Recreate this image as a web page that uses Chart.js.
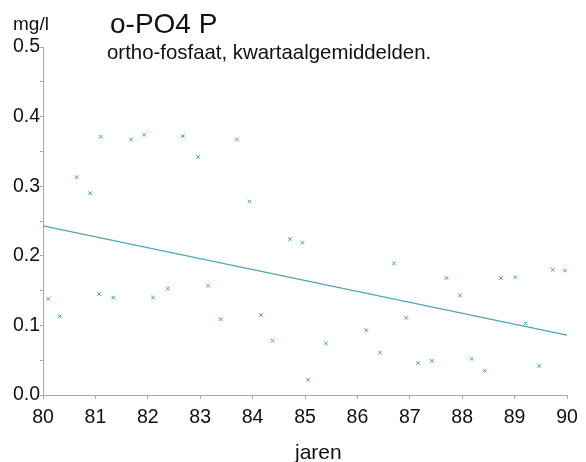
<!DOCTYPE html>
<html>
<head>
<meta charset="utf-8">
<script src="https://cdn.jsdelivr.net/npm/chart.js@4.4.1/dist/chart.umd.min.js"></script>
<style>
  html, body { margin: 0; padding: 0; background: #fff; }
  #wrap { position: relative; width: 586px; height: 462px; }
</style>
</head>
<body>
<div id="wrap"><canvas id="c" width="586" height="462"></canvas></div>
<script>
// Quarterly averages of ortho-phosphate (mg/l P), 1980-1990
const years = [
  80.10, 80.32, 80.64, 80.90, 81.07, 81.10, 81.34, 81.68, 81.93,
  82.10, 82.38, 82.67, 82.96, 83.15, 83.39, 83.70, 83.94,
  84.16, 84.38, 84.71, 84.95, 85.06, 85.40,
  86.17, 86.43, 86.70, 86.93, 87.16, 87.42, 87.70, 87.96,
  88.18, 88.43, 88.74, 89.01, 89.21, 89.47, 89.73, 89.96
];
const values = [
  0.138, 0.113, 0.313, 0.290, 0.145, 0.371, 0.140, 0.367, 0.374,
  0.140, 0.153, 0.372, 0.342, 0.157, 0.109, 0.367, 0.278,
  0.115, 0.078, 0.224, 0.219, 0.022, 0.074,
  0.093, 0.061, 0.189, 0.111, 0.046, 0.049, 0.168, 0.143,
  0.052, 0.035, 0.168, 0.169, 0.103, 0.042, 0.180, 0.179
];

// Linear trend line end points
const trendYears = [80, 90];
const trendValues = [0.243, 0.086];

// Axis ticks
const xTicks = [80, 81, 82, 83, 84, 85, 86, 87, 88, 89, 90];
const yTicks = [0.0, 0.1, 0.2, 0.3, 0.4, 0.5];

const FONT = "'Liberation Sans', Arial, Helvetica, sans-serif";
const TEAL = '#3f9fb3';

const points = years.map((x, i) => ({ x, y: values[i] }));
const trend = trendYears.map((x, i) => ({ x, y: trendValues[i] }));

// Title, subtitle and axis captions
const captions = {
  id: 'captions',
  afterDraw(chart) {
    const ctx = chart.ctx;
    ctx.save();
    ctx.fillStyle = '#111';
    ctx.textAlign = 'left';
    ctx.textBaseline = 'alphabetic';
    ctx.font = '19px ' + FONT;
    ctx.fillText('mg/l', 13, 30);
    ctx.font = '28px ' + FONT;
    ctx.fillText('o-PO4 P', 110, 33);
    ctx.font = '20.4px ' + FONT;
    ctx.fillText('ortho-fosfaat, kwartaalgemiddelden.', 107, 59);
    ctx.font = '21px ' + FONT;
    ctx.fillText('jaren', 295, 459);
    ctx.restore();
  }
};

new Chart(document.getElementById('c'), {
  type: 'scatter',
  data: {
    datasets: [
      {
        label: 'o-PO4 P',
        data: points,
        pointStyle: 'crossRot',
        pointRadius: 2.6,
        pointBorderWidth: 1,
        borderColor: TEAL,
        backgroundColor: TEAL,
        showLine: false
      },
      {
        label: 'trend',
        type: 'line',
        data: trend,
        borderColor: '#4fa5b5',
        borderWidth: 1.3,
        pointRadius: 0,
        fill: false
      }
    ]
  },
  options: {
    responsive: false,
    animation: false,
    layout: { padding: { top: 47, right: 19, left: 0, bottom: 0 } },
    plugins: {
      legend: { display: false },
      tooltip: { enabled: false }
    },
    scales: {
      x: {
        type: 'linear',
        min: xTicks[0],
        max: xTicks[xTicks.length - 1],
        afterBuildTicks(scale) { scale.ticks = xTicks.map(v => ({ value: v })); },
        afterFit(scale) { scale.height = 67; },
        border: { display: true, color: '#a8a8a8', width: 1 },
        grid: { display: true, drawOnChartArea: false, drawTicks: true, tickLength: 4, color: '#a8a8a8' },
        ticks: {
          padding: 7,
          color: '#111',
          font: { family: FONT, size: 19.5 },
          callback: v => String(v)
        }
      },
      y: {
        type: 'linear',
        min: yTicks[0],
        max: yTicks[yTicks.length - 1],
        afterBuildTicks(scale) {
          // labelled ticks every 0.1 with unlabelled marks in between
          const t = [];
          for (let i = 0; i < yTicks.length; i++) {
            t.push({ value: yTicks[i] });
            if (i < yTicks.length - 1) t.push({ value: (yTicks[i] + yTicks[i + 1]) / 2, minor: true });
          }
          scale.ticks = t;
        },
        afterFit(scale) { scale.width = 43; },
        border: { display: true, color: '#a8a8a8', width: 1 },
        grid: { display: true, drawOnChartArea: false, drawTicks: true, tickLength: 3, color: '#a8a8a8' },
        ticks: {
          padding: 0,
          color: '#111',
          font: { family: FONT, size: 19.5 },
          callback: v => yTicks.some(t => Math.abs(t - v) < 1e-9) ? v.toFixed(1) : ''
        }
      }
    }
  },
  plugins: [captions]
});
</script>
</body>
</html>
